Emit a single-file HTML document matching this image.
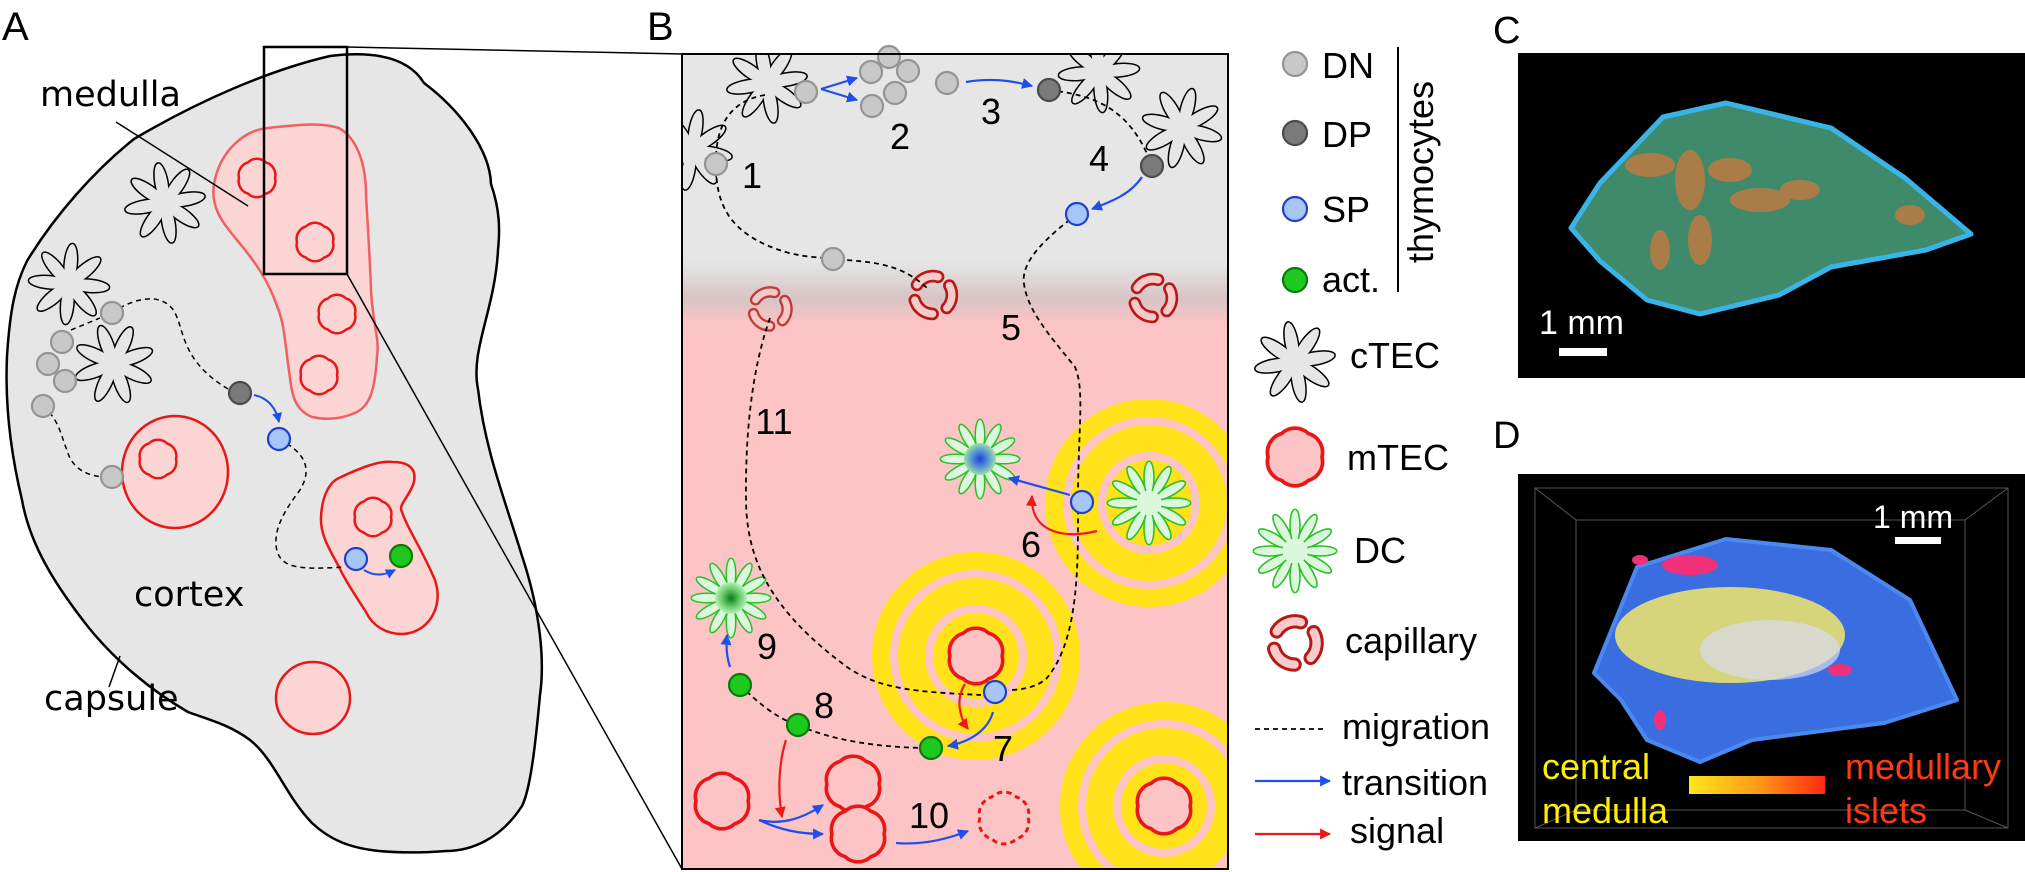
<!DOCTYPE html>
<html><head><meta charset="utf-8"><style>
html,body{margin:0;padding:0;background:#fff;}
svg{display:block;}
text{font-family:"Liberation Sans",Arial,sans-serif;}
.dj{font-family:"DejaVu Sans","Liberation Sans",sans-serif;}
.dn{fill:#c8c8c8;stroke:#949494;stroke-width:2.2}
.dp{fill:#7a7a7a;stroke:#4a4a4a;stroke-width:2.2}
.sp{fill:#a6c6f8;stroke:#2040c8;stroke-width:2.2}
.ac{fill:#1ec81e;stroke:#0a7a0a;stroke-width:2.2}
</style></head><body>
<svg width="2025" height="872" viewBox="0 0 2025 872" xmlns="http://www.w3.org/2000/svg" xmlns:xlink="http://www.w3.org/1999/xlink">
<defs>
<marker id="mb" viewBox="0 0 10 10" refX="9" refY="5" markerWidth="5" markerHeight="5" orient="auto"><path d="M0,0L10,5L0,10z" fill="#1f4fe8"/></marker>
<marker id="mr" viewBox="0 0 10 10" refX="9" refY="5" markerWidth="5" markerHeight="5" orient="auto"><path d="M0,0L10,5L0,10z" fill="#f01818"/></marker>
<clipPath id="cb"><rect x="682" y="54" width="546" height="815"/></clipPath>
<linearGradient id="gb" x1="0" y1="0" x2="0" y2="1">
<stop offset="0" stop-color="#e6e6e6"/><stop offset="0.255" stop-color="#e6e6e6"/><stop offset="0.3" stop-color="#d8c4c4"/><stop offset="0.33" stop-color="#fcc4c4"/><stop offset="1" stop-color="#fcc4c4"/></linearGradient>
<linearGradient id="gbar" x1="0" y1="0" x2="1" y2="0"><stop offset="0" stop-color="#ffe81a"/><stop offset="0.5" stop-color="#ff9a1a"/><stop offset="1" stop-color="#ff2a10"/></linearGradient>
<radialGradient id="gdc"><stop offset="0" stop-color="#1a44d8"/><stop offset="0.6" stop-color="#60a0d0"/><stop offset="1" stop-color="#a0e0a0"/></radialGradient>
<radialGradient id="gdc2"><stop offset="0" stop-color="#0a7a1a"/><stop offset="0.6" stop-color="#70d070"/><stop offset="1" stop-color="#b8f0b8"/></radialGradient>
<path id="mt" d="M18,0 A13,13 0 0 1 9,15.6 A13,13 0 0 1 -9,15.6 A13,13 0 0 1 -18,0 A13,13 0 0 1 -9,-15.6 A13,13 0 0 1 9,-15.6 A13,13 0 0 1 18,0 Z"/>
<g id="ct">
<g fill="#000" stroke="#000" stroke-width="3">
<ellipse cx="20" rx="20" ry="6"/><ellipse cx="20" rx="20" ry="6" transform="rotate(45)"/><ellipse cx="20" rx="20" ry="6" transform="rotate(90)"/><ellipse cx="20" rx="20" ry="6" transform="rotate(135)"/>
<ellipse cx="20" rx="20" ry="6" transform="rotate(180)"/><ellipse cx="20" rx="20" ry="6" transform="rotate(225)"/><ellipse cx="20" rx="20" ry="6" transform="rotate(270)"/><ellipse cx="20" rx="20" ry="6" transform="rotate(315)"/>
</g>
<g fill="#e6e6e6">
<ellipse cx="20" rx="20" ry="6"/><ellipse cx="20" rx="20" ry="6" transform="rotate(45)"/><ellipse cx="20" rx="20" ry="6" transform="rotate(90)"/><ellipse cx="20" rx="20" ry="6" transform="rotate(135)"/>
<ellipse cx="20" rx="20" ry="6" transform="rotate(180)"/><ellipse cx="20" rx="20" ry="6" transform="rotate(225)"/><ellipse cx="20" rx="20" ry="6" transform="rotate(270)"/><ellipse cx="20" rx="20" ry="6" transform="rotate(315)"/>
</g>
</g>
<g id="dcs">
<g fill="#2ac02a" stroke="#2ac02a" stroke-width="3">
<ellipse cx="24" rx="15" ry="4"/><ellipse cx="24" rx="15" ry="4" transform="rotate(30)"/><ellipse cx="24" rx="15" ry="4" transform="rotate(60)"/><ellipse cx="24" rx="15" ry="4" transform="rotate(90)"/>
<ellipse cx="24" rx="15" ry="4" transform="rotate(120)"/><ellipse cx="24" rx="15" ry="4" transform="rotate(150)"/><ellipse cx="24" rx="15" ry="4" transform="rotate(180)"/><ellipse cx="24" rx="15" ry="4" transform="rotate(210)"/>
<ellipse cx="24" rx="15" ry="4" transform="rotate(240)"/><ellipse cx="24" rx="15" ry="4" transform="rotate(270)"/><ellipse cx="24" rx="15" ry="4" transform="rotate(300)"/><ellipse cx="24" rx="15" ry="4" transform="rotate(330)"/>
<circle r="12"/>
</g>
<g fill="#dcf8dc">
<ellipse cx="24" rx="15" ry="4"/><ellipse cx="24" rx="15" ry="4" transform="rotate(30)"/><ellipse cx="24" rx="15" ry="4" transform="rotate(60)"/><ellipse cx="24" rx="15" ry="4" transform="rotate(90)"/>
<ellipse cx="24" rx="15" ry="4" transform="rotate(120)"/><ellipse cx="24" rx="15" ry="4" transform="rotate(150)"/><ellipse cx="24" rx="15" ry="4" transform="rotate(180)"/><ellipse cx="24" rx="15" ry="4" transform="rotate(210)"/>
<ellipse cx="24" rx="15" ry="4" transform="rotate(240)"/><ellipse cx="24" rx="15" ry="4" transform="rotate(270)"/><ellipse cx="24" rx="15" ry="4" transform="rotate(300)"/><ellipse cx="24" rx="15" ry="4" transform="rotate(330)"/>
<circle r="12"/>
</g>
</g>
<g id="cap">
<circle r="18" fill="none" stroke="#b81818" stroke-width="12" stroke-dasharray="23,15" stroke-linecap="round" transform="rotate(-30)"/>
<circle r="18" fill="none" stroke="#f8caca" stroke-width="7" stroke-dasharray="23,15" stroke-linecap="round" transform="rotate(-30)"/>
</g>
<g id="rg">
<circle r="104" fill="#ffe21a"/><circle r="86" fill="#fcc4c4"/><circle r="78" fill="#ffe21a"/><circle r="51" fill="#fcc4c4"/><circle r="43" fill="#ffe21a"/>
</g>
</defs>

<!-- Panel A -->
<text x="2" y="40" font-size="40">A</text>
<path d="M330,56 C380,50 410,60 424,83 C460,110 490,150 491,184 C500,210 500,230 498,250 C495,310 470,350 478,389 C485,450 505,500 522,556 C540,610 545,660 540,695 C535,750 530,790 522,806 C500,840 470,851 446,851 C420,853 400,853 379,851 C350,848 330,840 312,823 C285,795 275,760 250,740 C230,725 210,720 188,712 C150,690 115,660 89,628 C55,585 30,545 22,500 C10,450 5,400 7,356 C10,310 15,285 27,261 C55,215 95,170 134,139 C200,100 270,70 330,56 Z" fill="#e6e6e6" stroke="#000" stroke-width="2.5"/>
<path d="M214,184 C220,150 245,130 268,128 C295,125 320,122 339,128 C360,140 366,170 366,195 C368,230 370,260 371,289 C372,320 380,340 377,356 C375,390 370,405 357,412 C340,420 325,420 312,417 C295,410 292,395 290,378 C285,345 285,325 277,306 C268,280 255,262 241,245 C225,225 210,210 214,184 Z" fill="#fbd4d4" stroke="#f06060" stroke-width="2.5"/>
<ellipse cx="175" cy="472" rx="53" ry="56" fill="#fbd4d4" stroke="#e81818" stroke-width="2.5"/>
<path d="M321,517 C322,495 330,482 339,478 C360,468 380,460 393,462 C410,462 418,470 413,485 C408,498 398,505 402,512 C408,530 420,545 435,580 C445,610 425,634 402,634 C385,634 372,625 366,612 C355,595 345,580 339,567 C330,550 320,535 321,517 Z" fill="#fbd4d4" stroke="#e81818" stroke-width="2.5"/>
<ellipse cx="313" cy="698" rx="37" ry="36" fill="#fbd4d4" stroke="#e81818" stroke-width="2.5"/>
<g fill="none" stroke="#e81818" stroke-width="2.5">
<use xlink:href="#mt" transform="translate(257,178)"/>
<use xlink:href="#mt" transform="translate(315,242)"/>
<use xlink:href="#mt" transform="translate(337,314)"/>
<use xlink:href="#mt" transform="translate(319,375)"/>
<use xlink:href="#mt" transform="translate(158,459)"/>
<use xlink:href="#mt" transform="translate(373,517)"/>
</g>
<use xlink:href="#ct" transform="translate(165,203) rotate(-10)"/>
<use xlink:href="#ct" transform="translate(69,284) rotate(5)"/>
<use xlink:href="#ct" transform="translate(114,364) rotate(-20)"/>
<g fill="none" stroke="#000" stroke-width="1.5" stroke-dasharray="5,4">
<path d="M112,313 C130,300 160,290 174,311 C185,330 180,360 228,389"/>
<path d="M71,330 L100,318"/>
<path d="M43,406 C60,420 62,440 67,450 C72,470 90,478 112,477"/>
<path d="M279,439 C300,450 315,465 300,490 C285,510 272,530 277,551 C282,568 300,570 344,567"/>
</g>
<circle class="dn" cx="112" cy="313" r="11"/><circle class="dn" cx="62" cy="342" r="11"/><circle class="dn" cx="48" cy="364" r="11"/>
<circle class="dn" cx="65" cy="381" r="11"/><circle class="dn" cx="43" cy="406" r="11"/><circle class="dn" cx="112" cy="477" r="11"/>
<circle class="dp" cx="240" cy="393" r="11"/><circle class="sp" cx="279" cy="439" r="11"/><circle class="sp" cx="356" cy="559" r="11"/><circle class="ac" cx="401" cy="556" r="11"/>
<rect x="264" y="47" width="83" height="227" fill="none" stroke="#000" stroke-width="2.5"/>
<line x1="347" y1="47" x2="682" y2="54" stroke="#000" stroke-width="1.5"/>
<line x1="347" y1="274" x2="682" y2="869" stroke="#000" stroke-width="1.5"/>
<path d="M254,395 C268,398 276,408 279,422" fill="none" stroke="#1f4fe8" stroke-width="2" marker-end="url(#mb)"/>
<path d="M364,570 C375,577 385,575 395,570" fill="none" stroke="#1f4fe8" stroke-width="2" marker-end="url(#mb)"/>
<text class="dj" x="40" y="106" font-size="35">medulla</text>
<line x1="116" y1="122" x2="248" y2="206" stroke="#000" stroke-width="1.5"/>
<text class="dj" x="134" y="606" font-size="35">cortex</text>
<text class="dj" x="44" y="710" font-size="35">capsule</text>
<line x1="120" y1="656" x2="109" y2="687" stroke="#000" stroke-width="1.5"/>

<!-- Panel B -->
<text x="647" y="40" font-size="40">B</text>
<rect x="682" y="54" width="546" height="815" fill="url(#gb)"/>
<g clip-path="url(#cb)">
<use xlink:href="#rg" transform="translate(1149,503)"/>
<use xlink:href="#rg" transform="translate(976,656)"/>
<use xlink:href="#rg" transform="translate(1164,806)"/>
<use xlink:href="#ct" transform="translate(767,83) rotate(-10)"/>
<use xlink:href="#ct" transform="translate(692,150) rotate(10)"/>
<use xlink:href="#ct" transform="translate(1099,72) rotate(-5)"/>
<use xlink:href="#ct" transform="translate(1182,128) rotate(15)"/>
<use xlink:href="#cap" transform="translate(770,309) scale(0.95)" opacity="0.8"/>
<use xlink:href="#cap" transform="translate(933,295) scale(1.05)"/>
<use xlink:href="#cap" transform="translate(1153,298) scale(1.05)"/>
<use xlink:href="#dcs" transform="translate(980,459)"/>
<circle cx="980" cy="459" r="16" fill="url(#gdc)"/>
<use xlink:href="#dcs" transform="translate(731,598)"/>
<circle cx="731" cy="598" r="16" fill="url(#gdc2)"/>
<use xlink:href="#dcs" transform="translate(1149,503) scale(1.05)"/>
<g fill="#fcc4c4" stroke="#e81818" stroke-width="2.5">
<use xlink:href="#mt" transform="translate(976,656) scale(1.45)"/>
<use xlink:href="#mt" transform="translate(722,801) scale(1.45)"/>
<use xlink:href="#mt" transform="translate(853,784) scale(1.45)"/>
<use xlink:href="#mt" transform="translate(858,834) scale(1.45)"/>
<use xlink:href="#mt" transform="translate(1164,806) scale(1.45)"/>
</g>
<use xlink:href="#mt" transform="translate(1004,818) scale(1.35)" fill="none" stroke="#e81818" stroke-width="2.2" stroke-dasharray="4,3"/>
</g>
<g clip-path="url(#cb)" fill="none" stroke="#000" stroke-width="1.8" stroke-dasharray="5,4">
<path d="M765,95 C735,100 715,120 716,164 C716,200 725,235 789,253 C810,258 820,257 833,259 C870,262 900,262 928,289"/>
<path d="M1049,90 C1090,95 1130,105 1152,166"/>
<path d="M1077,214 C1050,235 1020,260 1024,284 C1028,310 1045,330 1075,367 C1085,390 1078,430 1078,500 C1078,560 1080,640 1046,679 C1035,688 1020,690 1008,690"/>
<path d="M770,318 C755,360 745,420 746,501 C747,560 770,610 847,667 C880,690 920,692 981,695"/>
<path d="M740,685 C760,705 780,720 798,725 C830,740 880,748 931,748"/>
</g>
<g>
<circle class="dn" cx="716" cy="164" r="11"/><circle class="dn" cx="806" cy="92" r="11"/><circle class="dn" cx="889" cy="57" r="11"/>
<circle class="dn" cx="871" cy="72" r="11"/><circle class="dn" cx="908" cy="71" r="11"/><circle class="dn" cx="895" cy="93" r="11"/>
<circle class="dn" cx="872" cy="106" r="11"/><circle class="dn" cx="947" cy="83" r="11"/><circle class="dn" cx="833" cy="259" r="11"/>
<circle class="dp" cx="1049" cy="90" r="11"/><circle class="dp" cx="1152" cy="166" r="11"/>
<circle class="sp" cx="1077" cy="214" r="11"/><circle class="sp" cx="1082" cy="502" r="11"/><circle class="sp" cx="995" cy="692" r="11"/>
<circle class="ac" cx="740" cy="685" r="11"/><circle class="ac" cx="798" cy="725" r="11"/><circle class="ac" cx="931" cy="748" r="11"/>
</g>
<g fill="none" stroke-width="2.2">
<path d="M821,89 L857,78" stroke="#1f4fe8" marker-end="url(#mb)"/>
<path d="M821,89 L857,100" stroke="#1f4fe8" marker-end="url(#mb)"/>
<path d="M966,82 C990,78 1010,80 1032,86" stroke="#1f4fe8" marker-end="url(#mb)"/>
<path d="M1142,177 C1130,195 1110,202 1092,209" stroke="#1f4fe8" marker-end="url(#mb)"/>
<path d="M1070,495 L1009,478" stroke="#1f4fe8" marker-end="url(#mb)"/>
<path d="M1097,531 C1060,540 1030,530 1032,496" stroke="#f01818" marker-end="url(#mr)"/>
<path d="M965,684 C955,700 960,718 968,729" stroke="#f01818" marker-end="url(#mr)"/>
<path d="M993,712 C988,730 970,742 948,746" stroke="#1f4fe8" marker-end="url(#mb)"/>
<path d="M730,667 C726,655 726,645 727,635" stroke="#1f4fe8" marker-end="url(#mb)"/>
<path d="M786,740 C778,765 778,795 782,817" stroke="#f01818" marker-end="url(#mr)"/>
<path d="M759,820 C780,825 800,820 823,805" stroke="#1f4fe8" marker-end="url(#mb)"/>
<path d="M759,820 C780,830 800,834 823,834" stroke="#1f4fe8" marker-end="url(#mb)"/>
<path d="M896,843 C920,845 945,840 968,831" stroke="#1f4fe8" marker-end="url(#mb)"/>
</g>
<rect x="682" y="54" width="546" height="815" fill="none" stroke="#000" stroke-width="2"/>
<g font-size="36" text-anchor="middle">
<text x="752" y="188">1</text><text x="900" y="149">2</text><text x="991" y="124">3</text><text x="1099" y="171">4</text>
<text x="1011" y="340">5</text><text x="1031" y="557">6</text><text x="1003" y="761">7</text><text x="824" y="718">8</text>
<text x="767" y="659">9</text><text x="929" y="828">10</text><text x="774" y="434">11</text>
</g>

<!-- Legend -->
<circle class="dn" cx="1295" cy="64" r="12"/><circle class="dp" cx="1295" cy="133" r="12"/><circle class="sp" cx="1295" cy="209" r="12"/><circle class="ac" cx="1295" cy="280" r="12"/>
<use xlink:href="#ct" transform="translate(1295,362) rotate(-10)"/>
<use xlink:href="#mt" transform="translate(1295,457) scale(1.5)" fill="#fcc4c4" stroke="#e81818" stroke-width="2.5"/>
<use xlink:href="#dcs" transform="translate(1295,551) scale(1.05)"/>
<use xlink:href="#cap" transform="translate(1295,643) scale(1.2)"/>
<g font-size="36">
<text x="1322" y="78">DN</text><text x="1322" y="147">DP</text><text x="1322" y="222">SP</text><text x="1322" y="292">act.</text>
<text x="1350" y="368">cTEC</text><text x="1347" y="470">mTEC</text><text x="1354" y="563">DC</text><text x="1345" y="653">capillary</text>
<text x="1342" y="739">migration</text><text x="1342" y="795">transition</text><text x="1350" y="843">signal</text>
<text transform="translate(1433,172) rotate(-90)" text-anchor="middle">thymocytes</text>
</g>
<line x1="1398" y1="47" x2="1398" y2="292" stroke="#000" stroke-width="2"/>
<line x1="1255" y1="729" x2="1324" y2="729" stroke="#000" stroke-width="1.8" stroke-dasharray="5,4"/>
<line x1="1255" y1="781" x2="1330" y2="781" stroke="#1f4fe8" stroke-width="2.2" marker-end="url(#mb)"/>
<line x1="1255" y1="834" x2="1330" y2="834" stroke="#f01818" stroke-width="2.2" marker-end="url(#mr)"/>

<!-- Panel C -->
<text x="1493" y="43" font-size="38">C</text>
<rect x="1518" y="53" width="507" height="325" fill="#000"/>
<path d="M1571,228 L1600,183 L1663,117 L1726,103 L1831,128 L1905,178 L1971,234 L1926,250 L1831,267 L1779,295 L1700,314 L1647,300 L1600,261 Z" fill="#3f8a6a" stroke="#3ab4e8" stroke-width="5" stroke-linejoin="round"/>
<g fill="#d8783a" opacity="0.7">
<ellipse cx="1650" cy="165" rx="25" ry="12"/><ellipse cx="1690" cy="180" rx="15" ry="30"/><ellipse cx="1730" cy="170" rx="22" ry="12"/>
<ellipse cx="1760" cy="200" rx="30" ry="12"/><ellipse cx="1700" cy="240" rx="12" ry="25"/><ellipse cx="1660" cy="250" rx="10" ry="20"/>
<ellipse cx="1800" cy="190" rx="20" ry="10"/><ellipse cx="1910" cy="215" rx="15" ry="10"/>
</g>
<text x="1539" y="334" font-size="34" fill="#fff">1 mm</text>
<rect x="1559" y="348" width="48" height="8" fill="#fff"/>

<!-- Panel D -->
<text x="1493" y="448" font-size="38">D</text>
<rect x="1518" y="474" width="507" height="367" fill="#000"/>
<g stroke="#555" stroke-width="1" fill="none">
<rect x="1535" y="488" width="473" height="340"/>
<rect x="1576" y="520" width="389" height="290"/>
<line x1="1535" y1="488" x2="1576" y2="520"/><line x1="2008" y1="488" x2="1965" y2="520"/>
<line x1="1535" y1="828" x2="1576" y2="810"/><line x1="2008" y1="828" x2="1965" y2="810"/>
</g>
<path d="M1594,673 L1637,567 L1726,539 L1831,550 L1910,600 L1957,700 L1884,723 L1752,740 L1700,762 L1647,740 L1621,700 Z" fill="#3a6ee0" stroke="#4a8af0" stroke-width="4" stroke-linejoin="round"/>
<ellipse cx="1730" cy="635" rx="115" ry="48" fill="#e8e070" opacity="0.9"/>
<ellipse cx="1770" cy="650" rx="70" ry="30" fill="#d8d8f0" opacity="0.7"/>
<g fill="#f0307a"><ellipse cx="1690" cy="565" rx="28" ry="10"/><ellipse cx="1640" cy="560" rx="8" ry="5"/><ellipse cx="1840" cy="670" rx="12" ry="6"/><ellipse cx="1660" cy="720" rx="6" ry="10"/></g>
<text x="1873" y="528" font-size="32" fill="#fff">1 mm</text>
<rect x="1895" y="537" width="46" height="7" fill="#fff"/>
<text x="1542" y="779" font-size="36" fill="#ffef00">central</text>
<text x="1542" y="823" font-size="36" fill="#ffef00">medulla</text>
<rect x="1689" y="776" width="136" height="18" fill="url(#gbar)"/>
<text x="1845" y="779" font-size="36" fill="#ff3a10">medullary</text>
<text x="1845" y="823" font-size="36" fill="#ff3a10">islets</text>
</svg>
</body></html>
